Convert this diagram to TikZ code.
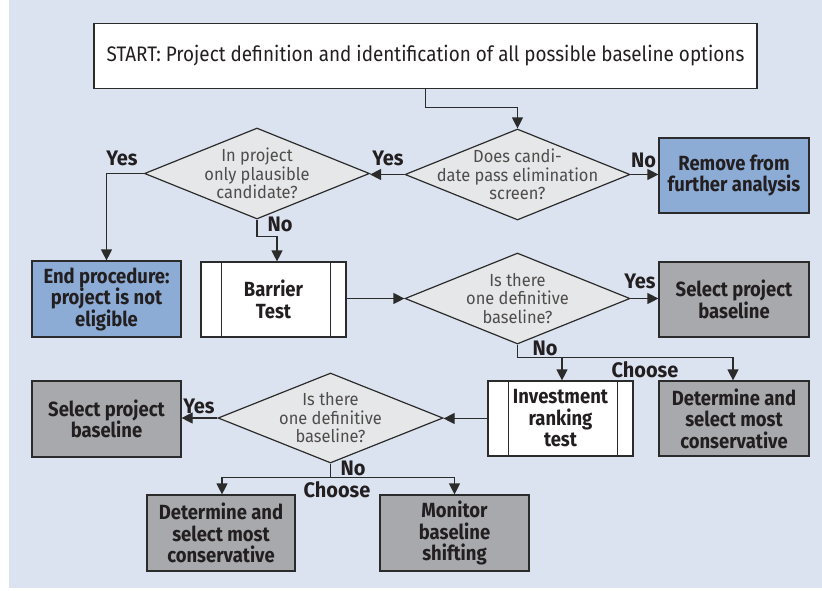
\documentclass[tikz,border=0pt]{standalone}
\usepackage{fontspec}
\setmainfont{Fira Sans}
\newfontfamily\cf[FakeStretch=0.9]{Fira Sans}
\newfontfamily\cfd[FakeStretch=0.94]{Fira Sans}
\newfontfamily\cfl[FakeStretch=0.95]{Fira Sans}
\usetikzlibrary{arrows.meta,shapes.geometric,calc}
\definecolor{bgc}{HTML}{DCE3F0}
\definecolor{dfill}{HTML}{E6E7E8}
\definecolor{bluec}{HTML}{8CACD6}
\definecolor{grayc}{HTML}{A7A9AC}
\definecolor{tc}{HTML}{231F20}
\definecolor{linec}{HTML}{2B2B2B}
\tikzset{
  boxbase/.style={draw=linec, line width=1.2pt, inner sep=0pt, align=center, text=tc,
    font=\cf\bfseries\fontsize{20.5}{21.5}\selectfont},
  startbox/.style={boxbase, fill=white, minimum width=663pt, minimum height=65pt,
    font=\cf\fontsize{21}{24}\selectfont},
  bluebox/.style={boxbase, fill=bluec, minimum width=150pt, minimum height=75pt},
  graybox/.style={boxbase, fill=grayc, minimum width=150pt, minimum height=75pt},
  procbox/.style={boxbase, fill=white, minimum width=145pt, minimum height=75pt},
  decision/.style={diamond, draw=linec, line width=1.2pt, fill=dfill, inner sep=0pt,
    minimum width=225pt, minimum height=91pt},
  dtext/.style={align=center, text=tc!80, inner sep=0pt, font=\cfd\fontsize{17.5}{18.5}\selectfont},
  lbl/.style={anchor=base, inner sep=0pt, text=tc, font=\cfl\bfseries\fontsize{21}{22}\selectfont},
  arr/.style={draw=linec, line width=1.2pt, -{Triangle[length=11pt,width=11pt]}},
  ln/.style={draw=linec, line width=1.2pt}
}
\begin{document}
\begin{tikzpicture}[x=1pt,y=-1pt]
\useasboundingbox (0,0) rectangle (822,590);
\fill[bgc] (9,0) rectangle (822,588);

% nodes
\node[startbox] (start) at (425.5,56) {START: Project definition and identification of all possible baseline options};

\node[decision] (d1) at (517.5,174.5) {};
\node[dtext] (d1t) at (d1.center) {Does candi-\\date pass elimination\\screen?};

\node[bluebox] (remove) at (734,175.5) {Remove from\\further analysis};

\node[decision] (dA) at (257,173.5) {};
\node[dtext] (dAt) at (dA.center) {In project\\only plausible\\candidate?};

\node[bluebox, minimum width=149pt, minimum height=76pt] (endp) at (106.5,299) {End procedure:\\project is not\\eligible};

\node[procbox] (barrier) at (273.5,299.5) {Barrier\\Test};
\draw[ln] ([xshift=21pt]barrier.north west) -- ([xshift=21pt]barrier.south west);
\draw[ln] ([xshift=-16pt]barrier.north east) -- ([xshift=-16pt]barrier.south east);

\node[decision] (d2) at (517.5,298.5) {};
\node[dtext] (d2t) at (d2.center) {Is there\\one definitive\\baseline?};

\node[graybox] (sel1) at (734,299.5) {Select project\\baseline};

\node[procbox] (invest) at (560.5,418.5) {Investment\\ranking\\test};
\draw[ln] ([xshift=21pt]invest.north west) -- ([xshift=21pt]invest.south west);
\draw[ln] ([xshift=-16pt]invest.north east) -- ([xshift=-16pt]invest.south east);

\node[graybox] (det1) at (734,418.5) {Determine and\\select most\\conservative};

\node[decision, minimum height=90pt] (d3) at (330.5,418) {};
\node[dtext] (d3t) at (d3.center) {Is there\\one definitive\\baseline?};

\node[graybox, minimum width=149pt, minimum height=76pt] (sel2) at (106.5,419) {Select project\\baseline};

\node[graybox, minimum width=148pt, minimum height=76pt] (det2) at (221,533) {Determine and\\select most\\conservative};
\node[graybox, minimum width=149pt, minimum height=76pt] (monitor) at (454.5,533) {Monitor\\baseline\\shifting};

% connectors
\draw[arr] (start.south) -- ++(0,18) -| (d1.north);
\draw[arr] (d1.west) -- (dA.east |- d1.west);
\draw[arr] (d1.east) -- (remove.west |- d1.east);
\draw[arr] (dA.west) -| (endp.north);
\draw[arr] (dA.south) -- ++(0,17) -| ([xshift=3.5pt]barrier.north);
\draw[arr] (barrier.east |- d2.west) -- (d2.west);
\draw[arr] (d2.east) -- (sel1.west |- d2.east);
\coordinate (b2) at ($(d2.south)+(0,13)$);
\draw[ln] (d2.south) -- (b2);
\draw[arr] (b2) -| ([xshift=1.5pt]invest.north);
\draw[arr] (b2) -| ([xshift=-1pt]det1.north);
\draw[arr] (invest.west) -- (d3.east |- invest.west);
\draw[arr] (d3.west) -- (sel2.east |- d3.west);
\coordinate (b3) at ($(d3.south)+(0,14)$);
\draw[ln] (d3.south) -- (b3);
\draw[arr] (b3) -| ([xshift=1pt]det2.north);
\draw[arr] (b3) -| (monitor.north);

% labels
\node[lbl] (l1) at (122,165) {Yes};
\node[lbl] (l2) at (388,165) {Yes};
\node[lbl] (l3) at (643.5,167) {No};
\node[lbl] (l4) at (280,231) {No};
\node[lbl] (l5) at (640,288) {Yes};
\node[lbl] (l6) at (545,355) {No};
\node[lbl] (l7) at (645,377) {Choose};
\node[lbl] (l8) at (199,413) {Yes};
\node[lbl] (l9) at (353,475) {No};
\node[lbl] (l10) at (337,497) {Choose};
\end{tikzpicture}
\end{document}
